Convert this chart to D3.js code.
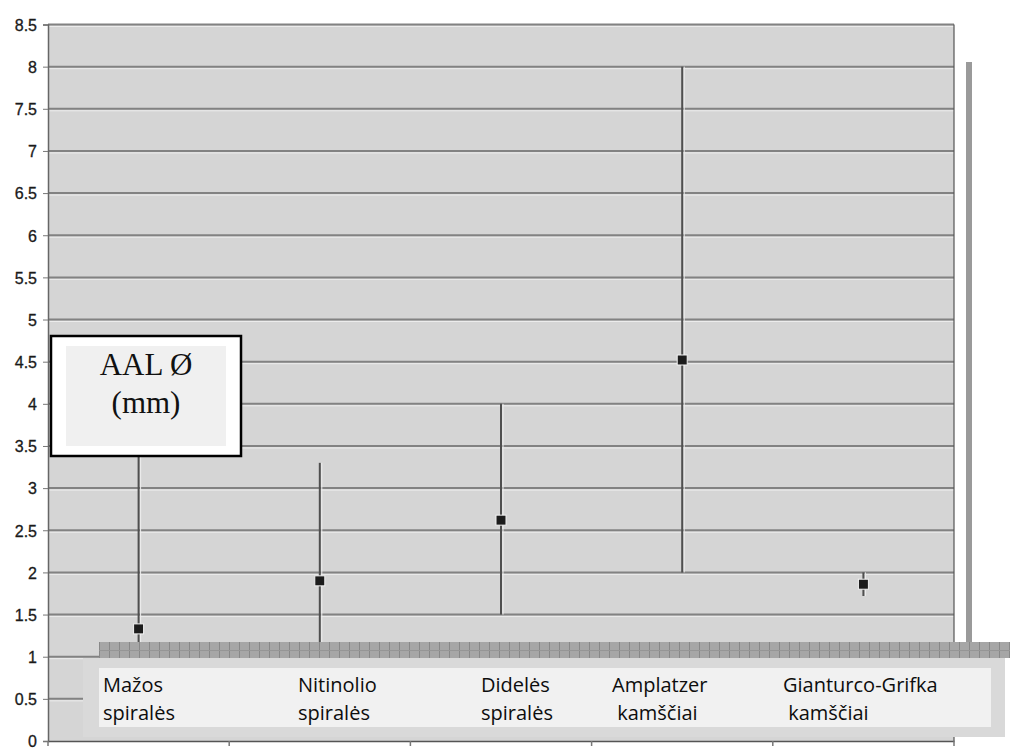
<!DOCTYPE html>
<html>
<head>
<meta charset="utf-8">
<script src="https://cdn.jsdelivr.net/npm/d3@7"></script>
<style>
  html, body { margin: 0; padding: 0; background: #ffffff; }
  svg { display: block; }
</style>
</head>
<body>
<svg id="chart" width="1010" height="749"></svg>
<script>
// ---- data ----
const categories = ["Mažos spiralės", "Nitinolio spiralės", "Didelės spiralės", "Amplatzer kamščiai", "Gianturco-Grifka kamščiai"];
const labelLine1 = ["Mažos", "Nitinolio", "Didelės", "Amplatzer", "Gianturco-Grifka"];
const labelLine2 = ["spiralės", "spiralės", "spiralės", " kamščiai", " kamščiai"];
const meanValues = [1.33, 1.9, 2.62, 4.52, 1.86];
const minValues  = [0.9, 0.9, 1.5, 2.0, 1.72];
const maxValues  = [3.5, 3.3, 4.0, 8.0, 2.0];
const yTicks = [0, 0.5, 1, 1.5, 2, 2.5, 3, 3.5, 4, 4.5, 5, 5.5, 6, 6.5, 7, 7.5, 8, 8.5];
const legendLines = ["AAL Ø", "(mm)"];

// ---- layout ----
const svg = d3.select("#chart");
const plotLeft = 48, plotRight = 954, plotTop = 24.5, plotBottom = 741;

const x = d3.scaleBand().domain(categories).range([plotLeft, plotRight]).padding(0);
const y = d3.scaleLinear().domain([0, 8.5]).range([plotBottom, plotTop]);

// plot background
svg.append("rect")
  .attr("x", plotLeft).attr("y", plotTop)
  .attr("width", plotRight - plotLeft).attr("height", plotBottom - plotTop)
  .attr("fill", "#d5d5d5");

// gridlines (with light highlight under each, scan look)
const grid = svg.append("g");
grid.selectAll("line.hl").data(yTicks.filter(d => d > 0)).join("line")
  .attr("x1", plotLeft).attr("x2", plotRight)
  .attr("y1", d => y(d) + 2).attr("y2", d => y(d) + 2)
  .attr("stroke", "#ececec").attr("stroke-width", 1);
grid.selectAll("line.g").data(yTicks.filter(d => d > 0)).join("line")
  .attr("x1", plotLeft).attr("x2", plotRight)
  .attr("y1", d => y(d)).attr("y2", d => y(d))
  .attr("stroke", "#828282").attr("stroke-width", 2);

// right border of plot
svg.append("line")
  .attr("x1", plotRight).attr("x2", plotRight)
  .attr("y1", plotTop).attr("y2", plotBottom)
  .attr("stroke", "#555").attr("stroke-width", 1.2);

// y axis
const yAxis = d3.axisLeft(y).tickValues(yTicks).tickSize(5).tickPadding(6)
  .tickFormat(d3.format("~g"));
const gy = svg.append("g").attr("transform", `translate(${plotLeft},0)`).call(yAxis);
gy.select(".domain").attr("stroke", "#666").attr("stroke-width", 1.5);
gy.selectAll(".tick line").attr("stroke", "#777");
gy.selectAll(".tick text")
  .attr("font-family", "Liberation Sans, Arial, sans-serif")
  .attr("font-size", 16).attr("fill", "#1a1a1a").attr("dy", "0.36em")
  .attr("stroke", "#1a1a1a").attr("stroke-width", 0.3);

// x axis
const xAxis = d3.axisBottom(x).tickSize(0).tickFormat("");
const gx = svg.append("g").attr("transform", `translate(0,${plotBottom})`).call(xAxis);
gx.select(".domain").attr("stroke", "#555").attr("stroke-width", 1.5);
const boundaries = categories.map(c => x(c)).concat([x(categories[categories.length - 1]) + x.bandwidth()]);
svg.append("g").selectAll("line").data(boundaries).join("line")
  .attr("x1", d => d).attr("x2", d => d)
  .attr("y1", plotBottom).attr("y2", plotBottom + 5)
  .attr("stroke", "#777").attr("stroke-width", 1.5);

// error bars
const bars = svg.append("g");
const cx = c => x(c) + x.bandwidth() / 2;
bars.selectAll("line.hl").data(categories).join("line")
  .attr("x1", c => cx(c) + 2).attr("x2", c => cx(c) + 2)
  .attr("y1", (c, i) => y(maxValues[i])).attr("y2", (c, i) => y(minValues[i]))
  .attr("stroke", "#eeeeee").attr("stroke-width", 1);
bars.selectAll("line.bar").data(categories).join("line")
  .attr("x1", cx).attr("x2", cx)
  .attr("y1", (c, i) => y(maxValues[i])).attr("y2", (c, i) => y(minValues[i]))
  .attr("stroke", "#4f4f4f").attr("stroke-width", 2);
bars.selectAll("rect.m").data(categories).join("rect")
  .attr("x", c => cx(c) - 5).attr("y", (c, i) => y(meanValues[i]) - 5)
  .attr("width", 10).attr("height", 10)
  .attr("fill", "#1c1c1c").attr("stroke", "#f2f2f2").attr("stroke-width", 1);

// right scan bar
svg.append("rect").attr("x", 966).attr("y", 62).attr("width", 6).attr("height", 597).attr("fill", "#9a9a9a");

// hatched band
const defs = svg.append("defs");
const pat = defs.append("pattern").attr("id", "hatch").attr("patternUnits", "userSpaceOnUse")
  .attr("width", 10).attr("height", 16).attr("x", 99).attr("y", 642);
pat.append("rect").attr("width", 10).attr("height", 16).attr("fill", "#a6a6a6");
pat.append("line").attr("x1", 0.5).attr("x2", 0.5).attr("y1", 0).attr("y2", 16).attr("stroke", "#888").attr("stroke-width", 1);
pat.append("line").attr("x1", 0).attr("x2", 10).attr("y1", 8.5).attr("y2", 8.5).attr("stroke", "#959595").attr("stroke-width", 1);
svg.append("rect").attr("x", 99).attr("y", 642).attr("width", 911).attr("height", 16).attr("fill", "url(#hatch)");

// label box
svg.append("rect").attr("x", 83).attr("y", 658).attr("width", 922).attr("height", 79).attr("fill", "#d9d9d9");
svg.append("rect").attr("x", 99).attr("y", 668).attr("width", 892).attr("height", 59).attr("fill", "#f1f1f1");

const labelX = [103, 298, 481, 612, 783];
const lab = svg.append("g").attr("font-family", "Open Sans, Liberation Sans, sans-serif")
  .attr("font-size", 20).attr("fill", "#0d0d0d");
lab.selectAll("text.l1").data(labelLine1).join("text")
  .attr("x", (d, i) => labelX[i]).attr("y", 692).text(d => d);
lab.selectAll("text.l2").data(labelLine2).join("text")
  .attr("x", (d, i) => labelX[i]).attr("y", 720).attr("xml:space", "preserve")
  .style("white-space", "pre").text(d => d);

// legend box
svg.append("rect").attr("x", 51).attr("y", 336).attr("width", 190).attr("height", 120)
  .attr("fill", "#ffffff").attr("stroke", "#000").attr("stroke-width", 2.5);
svg.append("rect").attr("x", 66).attr("y", 346).attr("width", 160).attr("height", 100).attr("fill", "#f0f0f0");
svg.append("g").selectAll("text").data(legendLines).join("text")
  .attr("x", 146).attr("y", (d, i) => 375 + i * 38)
  .attr("text-anchor", "middle")
  .attr("font-family", "Liberation Serif, Times New Roman, serif")
  .attr("font-size", 31).attr("fill", "#111")
  .text(d => d);
</script>
</body>
</html>
